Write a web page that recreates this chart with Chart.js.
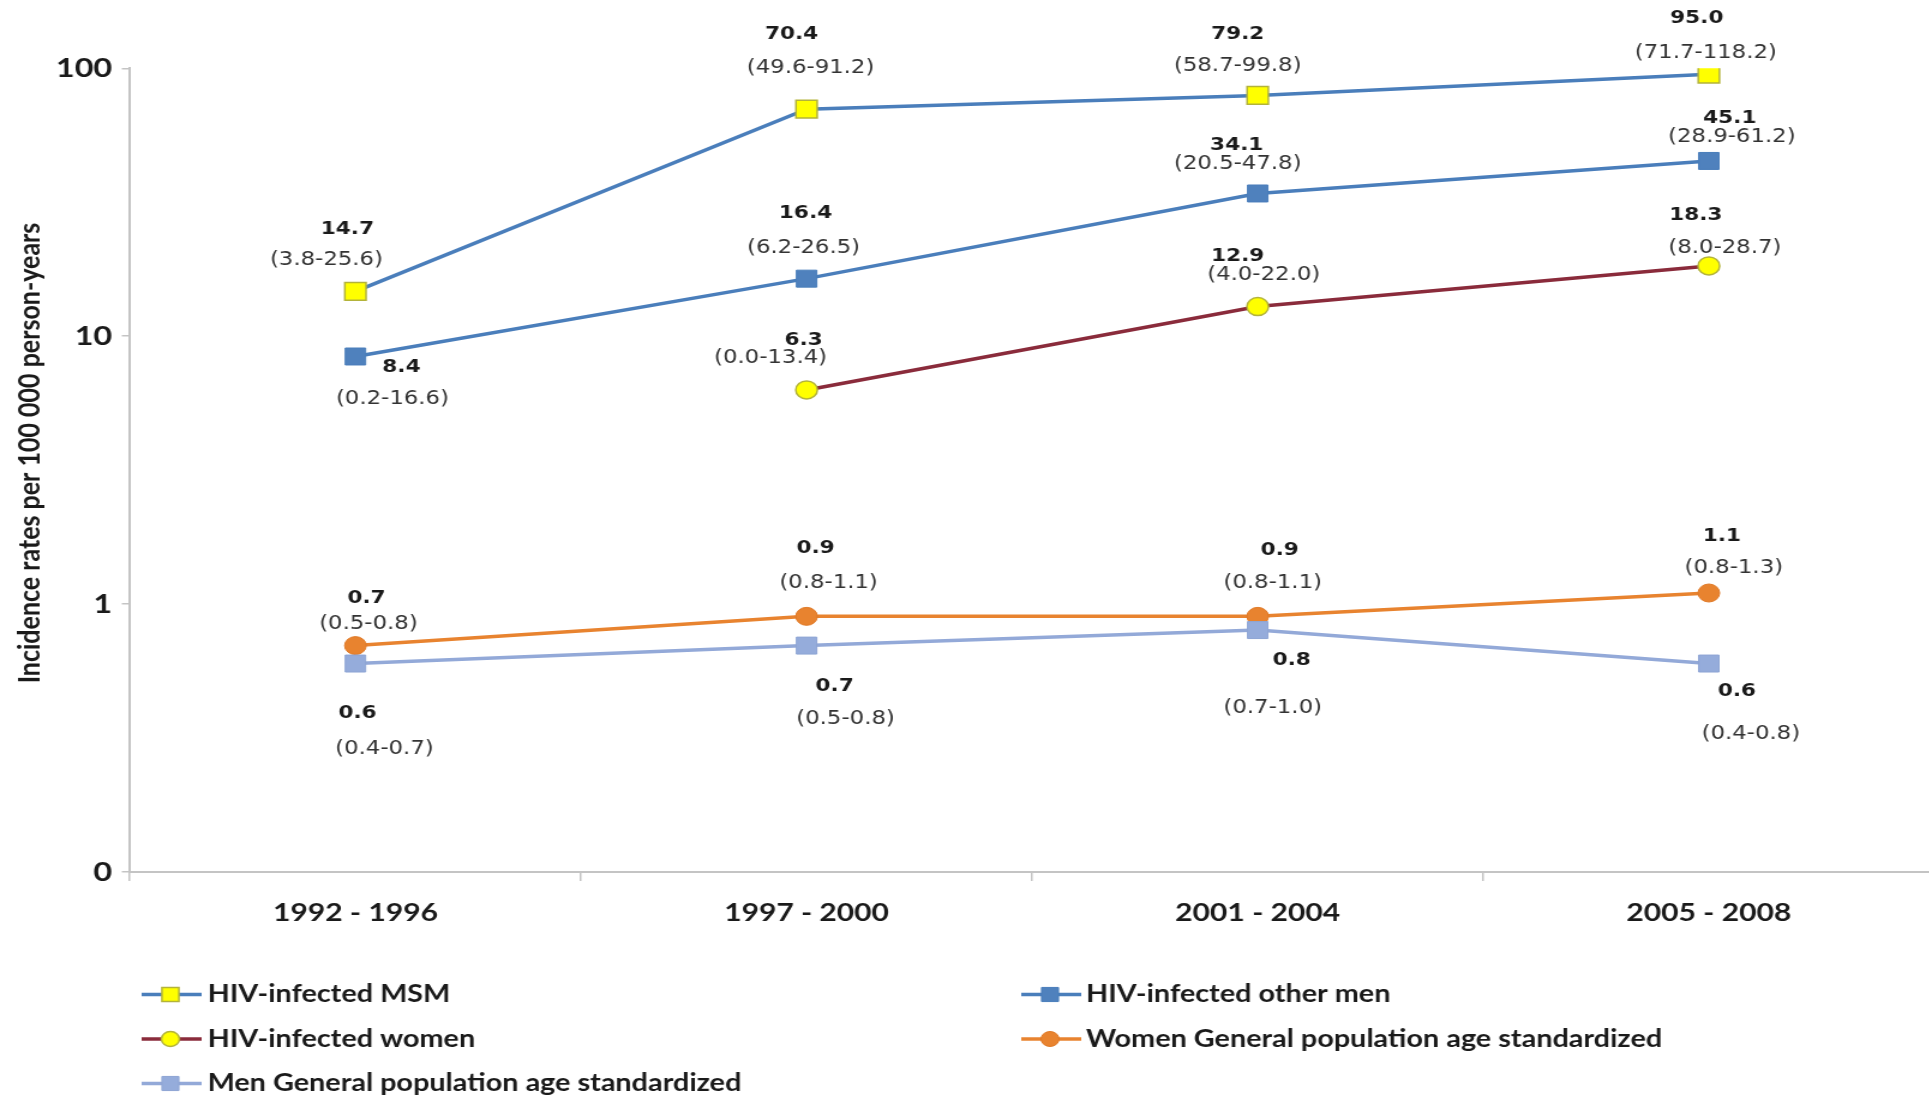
<!DOCTYPE html>
<html>
<head>
<meta charset="utf-8">
<script src="https://cdn.jsdelivr.net/npm/chart.js@4.4.1/dist/chart.umd.min.js"></script>
<style>
  html, body { margin: 0; padding: 0; background: #fff; overflow: hidden; width: 1929px; height: 1098px; }
  #wrap { position: absolute; left: 0; top: 0; width: 1626px; height: 1098px; transform: scaleX(1.2); transform-origin: 0 0; }
  canvas { display: block; }
</style>
</head>
<body>
<div id="wrap"><canvas id="chart" width="1626" height="1098"></canvas></div>
<script>
// The figure is laid out on a narrower canvas and widened by this factor via CSS.
const STRETCH = 1.2;

// Periods on the x axis
const categories = ['1992 - 1996', '1997 - 2000', '2001 - 2004', '2005 - 2008'];

// Incidence rates per 100 000 person-years
const msmRates          = [14.7, 70.4, 79.2, 95.0];
const otherMenRates     = [8.4, 16.4, 34.1, 45.1];
const hivWomenRates     = [null, 6.3, 12.9, 18.3];
const womenGeneralRates = [0.7, 0.9, 0.9, 1.1];
const menGeneralRates   = [0.6, 0.7, 0.8, 0.6];

// 95% confidence intervals
const msmCI          = ['(3.8-25.6)', '(49.6-91.2)', '(58.7-99.8)', '(71.7-118.2)'];
const otherMenCI     = ['(0.2-16.6)', '(6.2-26.5)', '(20.5-47.8)', '(28.9-61.2)'];
const hivWomenCI     = [null, '(0.0-13.4)', '(4.0-22.0)', '(8.0-28.7)'];
const womenGeneralCI = ['(0.5-0.8)', '(0.8-1.1)', '(0.8-1.1)', '(0.8-1.3)'];
const menGeneralCI   = ['(0.4-0.7)', '(0.5-0.8)', '(0.7-1.0)', '(0.4-0.8)'];

// Log axis ticks; the lowest gridline is printed as "0"
const yTicks      = [0.1, 1, 10, 100];
const yTickLabels = ['0', '1', '10', '100'];

// Label placement around each point: [dx, dy] for the rate and for the interval
const msmLabelPos = [
  { v: [-8, -62], ci: [-29, -31] }, { v: [-15, -75], ci: [4, -41] },
  { v: [-20, -61], ci: [-20, -29] }, { v: [-12, -56], ci: [-3, -21] }
];
const otherMenLabelPos = [
  { v: [46, 11], ci: [37, 43] }, { v: [-1, -65], ci: [-3, -31] },
  { v: [-21, -48], ci: [-20, -29] }, { v: [21, -43], ci: [23, -24] }
];
const hivWomenLabelPos = [
  null, { v: [-3, -50], ci: [-36, -32] },
  { v: [-20, -50], ci: [6, -32] }, { v: [-13, -51], ci: [16, -18] }
];
const womenGeneralLabelPos = [
  { v: [11, -47], ci: [13, -22] }, { v: [9, -68], ci: [22, -33] },
  { v: [22, -66], ci: [15, -33] }, { v: [13, -57], ci: [25, -25] }
];
const menGeneralLabelPos = [
  { v: [2, 50], ci: [29, 86] }, { v: [28, 41], ci: [39, 73] },
  { v: [34, 30], ci: [15, 78] }, { v: [28, 28], ci: [42, 71] }
];

const TEXT = '#1a1a1a';
const AXIS = '#c4c4c4';

const datasets = [
  { label: 'HIV-infected MSM', data: msmRates, ci: msmCI, labelPos: msmLabelPos,
    borderColor: '#4a7ebb', backgroundColor: '#ffff00', pointStyle: 'rect', pointRadius: 12.5,
    pointBorderColor: '#b3b33a', pointBorderWidth: 1.5, order: 2 },
  { label: 'HIV-infected other men', data: otherMenRates, ci: otherMenCI, labelPos: otherMenLabelPos,
    borderColor: '#4a7ebb', backgroundColor: '#4f81bd', pointStyle: 'rect', pointRadius: 12,
    pointBorderColor: '#4a7ebb', pointBorderWidth: 1, order: 2 },
  { label: 'HIV-infected women', data: hivWomenRates, ci: hivWomenCI, labelPos: hivWomenLabelPos,
    borderColor: '#8a2b3b', backgroundColor: '#ffff00', pointStyle: 'circle', pointRadius: 9,
    pointBorderColor: '#b3b33a', pointBorderWidth: 1.5, order: 2 },
  { label: 'Women General population age standardized', data: womenGeneralRates, ci: womenGeneralCI,
    labelPos: womenGeneralLabelPos,
    borderColor: '#e8832f', backgroundColor: '#e8832f', pointStyle: 'circle', pointRadius: 9,
    pointBorderColor: '#e07a28', pointBorderWidth: 1, order: 2 },
  { label: 'Men General population age standardized', data: menGeneralRates, ci: menGeneralCI,
    labelPos: menGeneralLabelPos,
    borderColor: '#93a9d8', backgroundColor: '#95acdb', pointStyle: 'rect', pointRadius: 12,
    pointBorderColor: '#8ea5d4', pointBorderWidth: 1, order: 1 }
].map(d => Object.assign({ borderWidth: 3.5, tension: 0, pointHoverRadius: d.pointRadius }, d));

// Rate and interval text beside every point
const pointLabels = {
  id: 'pointLabels',
  afterDatasetsDraw(chart) {
    const ctx = chart.ctx;
    ctx.save();
    ctx.textAlign = 'center';
    ctx.textBaseline = 'middle';
    chart.data.datasets.forEach((ds, i) => {
      const meta = chart.getDatasetMeta(i);
      ds.data.forEach((v, j) => {
        if (v === null) return;
        const pt = meta.data[j];
        const pos = ds.labelPos[j];
        ctx.fillStyle = TEXT;
        ctx.font = 'bold 18px "DejaVu Sans"';
        ctx.fillText(v.toFixed(1), pt.x + pos.v[0] / STRETCH, pt.y + pos.v[1]);
        ctx.fillStyle = '#333333';
        ctx.font = '19px "DejaVu Sans"';
        ctx.fillText(ds.ci[j], pt.x + pos.ci[0] / STRETCH, pt.y + pos.ci[1]);
      });
    });
    ctx.restore();
  }
};

// Two-column legend under the axis, plus the rotated y-axis title
const sideTexts = {
  id: 'sideTexts',
  afterDraw(chart) {
    const ctx = chart.ctx;
    const helpers = Chart.helpers;
    ctx.save();
    const cols = [{ x0: 118, x1: 168, mx: 142, tx: 173 }, { x0: 851, x1: 901, mx: 875, tx: 905 }];
    const rows = [994.5, 1039, 1083.5];
    chart.data.datasets.forEach((ds, i) => {
      const c = cols[i % 2];
      const y = rows[Math.floor(i / 2)];
      ctx.strokeStyle = ds.borderColor;
      ctx.lineWidth = 3.5;
      ctx.beginPath();
      ctx.moveTo(c.x0, y);
      ctx.lineTo(c.x1, y);
      ctx.stroke();
      ctx.fillStyle = ds.backgroundColor;
      ctx.strokeStyle = ds.pointBorderColor;
      ctx.lineWidth = ds.pointBorderWidth;
      helpers.drawPoint(ctx, { pointStyle: ds.pointStyle, radius: ds.pointStyle === 'rect' ? 10 : 7.5, rotation: 0, borderWidth: ds.pointBorderWidth }, c.mx, y);
      ctx.fillStyle = TEXT;
      ctx.font = 'bold 24px Lato';
      ctx.textAlign = 'left';
      ctx.textBaseline = 'middle';
      ctx.fillText(ds.label, c.tx, y);
    });

    ctx.translate(24.7, 453);
    ctx.rotate(-Math.PI / 2);
    ctx.fillStyle = TEXT;
    ctx.font = 'bold 25px Lato';
    ctx.textAlign = 'center';
    ctx.textBaseline = 'middle';
    ctx.fillText('Incidence rates per 100 000 person-years', 0, 0);
    ctx.restore();
  }
};

new Chart(document.getElementById('chart'), {
  type: 'line',
  data: { labels: categories, datasets },
  options: {
    responsive: false,
    devicePixelRatio: 1,
    animation: false,
    layout: { padding: { top: 68.3, right: 3.5, bottom: 0, left: 0 } },
    plugins: { legend: { display: false }, tooltip: { enabled: false } },
    scales: {
      x: {
        type: 'category',
        offset: true,
        afterFit(scale) { scale.height = 226; },
        grid: { offset: true, drawOnChartArea: false, drawTicks: true, tickLength: 9, color: AXIS, lineWidth: 1.5 },
        border: { display: true, color: AXIS, width: 2 },
        ticks: { color: TEXT, font: { family: 'Lato', weight: 'bold', size: 25 }, padding: 17, maxRotation: 0 }
      },
      y: {
        type: 'logarithmic',
        min: 0.1,
        max: 100,
        afterFit(scale) { scale.width = 108.2; },
        afterBuildTicks(scale) { scale.ticks = yTicks.map(v => ({ value: v })); },
        grid: { drawOnChartArea: false, drawTicks: true, tickLength: 6.7, color: AXIS, lineWidth: 1.5 },
        border: { display: true, color: AXIS, width: 2 },
        ticks: {
          color: TEXT,
          font: { family: 'Lato', weight: 'bold', size: 27 },
          padding: 8,
          callback: (value) => yTickLabels[yTicks.indexOf(value)]
        }
      }
    }
  },
  plugins: [pointLabels, sideTexts]
});
</script>
</body>
</html>
